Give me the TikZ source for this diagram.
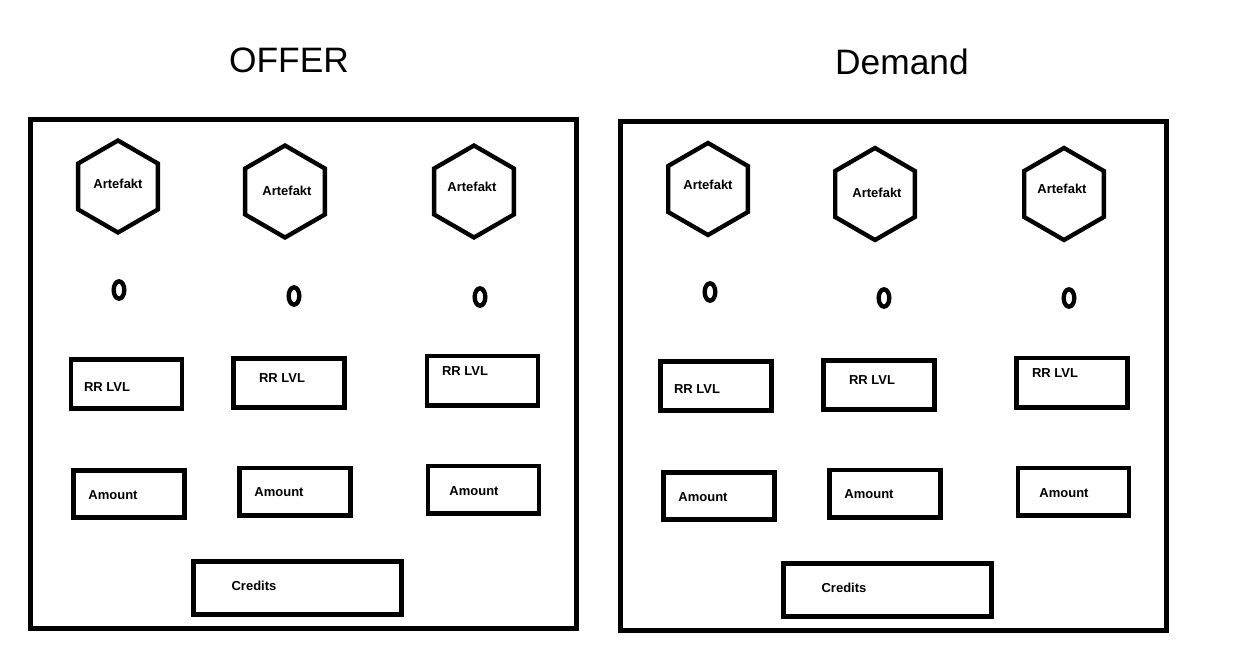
\documentclass[tikz,border=0pt]{standalone}
\usepackage{fontspec}
\setmainfont{Liberation Sans}
\usetikzlibrary{shapes.geometric}
\tikzset{
  panel/.style={draw, line width=3.5pt, minimum width=409.5pt, minimum height=381.75pt, inner sep=0pt},
  rrbox/.style={draw, line width=3.5pt, minimum width=83.25pt, minimum height=37pt, inner sep=0pt},
  amtbox/.style={draw, line width=3.5pt, minimum width=83.25pt, minimum height=35.5pt, inner sep=0pt},
  credbox/.style={draw, line width=3.5pt, minimum width=156pt, minimum height=40pt, inner sep=0pt},
  hex/.style={draw, line width=3.25pt, regular polygon, regular polygon sides=6, shape border rotate=30, minimum size=69pt, inner sep=0pt},
  oval/.style={draw, line width=3.25pt, ellipse, minimum width=8pt, minimum height=13pt, inner sep=0pt},
  lbl/.style={font=\bfseries\fontsize{9.75pt}{11pt}\selectfont, inner sep=0pt},
  title/.style={font=\fontsize{26.5pt}{30pt}\selectfont, inner sep=0pt}
}
\begin{document}
\begin{tikzpicture}[x=0.75pt, y=-0.75pt]
\useasboundingbox (0,0) rectangle (1247,660);
% titles
\node[title] (toffer) at (289,60) {OFFER};
\node[title] (tdemand) at (902,62) {Demand};
% panels
\node[panel] (pL) at (303.5,374) {};
\node[panel] (pR) at (893.5,376) {};
% hexagons
\node[hex] (hL1) at (118,186.5) {};
\node[hex] (hL2) at (285,191.5) {};
\node[hex] (hL3) at (474,191.5) {};
\node[hex] (hR1) at (708,189) {};
\node[hex] (hR2) at (875,194) {};
\node[hex] (hR3) at (1064,194) {};
\node[lbl] (aL1) at (118,184) {Artefakt};
\node[lbl] (aL2) at (287,191) {Artefakt};
\node[lbl] (aL3) at (472,187) {Artefakt};
\node[lbl] (aR1) at (708,185) {Artefakt};
\node[lbl] (aR2) at (877,193) {Artefakt};
\node[lbl] (aR3) at (1062,189) {Artefakt};
% ovals
\node[oval] (oL1) at (119,290) {};
\node[oval] (oL2) at (294,296) {};
\node[oval] (oL3) at (480,297) {};
\node[oval] (oR1) at (710,292) {};
\node[oval] (oR2) at (884,298) {};
\node[oval] (oR3) at (1069,298) {};
% RR LVL boxes
\node[rrbox] (rL1) at (126.5,384) {};
\node[rrbox] (rL2) at (289,383) {};
\node[rrbox] (rL3) at (482.5,380.5) {};
\node[rrbox] (rR1) at (716,386) {};
\node[rrbox] (rR2) at (879,385) {};
\node[rrbox] (rR3) at (1072,382.5) {};
\node[lbl] (rtL1) at (107,387) {RR LVL};
\node[lbl] (rtL2) at (282,378) {RR LVL};
\node[lbl] (rtL3) at (465,371) {RR LVL};
\node[lbl] (rtR1) at (697,389) {RR LVL};
\node[lbl] (rtR2) at (872,380) {RR LVL};
\node[lbl] (rtR3) at (1055,373) {RR LVL};
% Amount boxes
\node[amtbox] (mL1) at (129,494) {};
\node[amtbox] (mL2) at (295,491.5) {};
\node[amtbox] (mL3) at (483.5,489.5) {};
\node[amtbox] (mR1) at (719,496) {};
\node[amtbox] (mR2) at (885,493.5) {};
\node[amtbox] (mR3) at (1073.5,491.5) {};
\node[lbl] (mtL1) at (113,495) {Amount};
\node[lbl] (mtL2) at (279,492) {Amount};
\node[lbl] (mtL3) at (474,491) {Amount};
\node[lbl] (mtR1) at (703,497) {Amount};
\node[lbl] (mtR2) at (869,494) {Amount};
\node[lbl] (mtR3) at (1064,493) {Amount};
% Credits
\node[credbox] (cL) at (297.5,588) {};
\node[credbox] (cR) at (887.5,590) {};
\node[lbl] (ctL) at (254,586) {Credits};
\node[lbl] (ctR) at (844,588) {Credits};
\end{tikzpicture}
\end{document}
